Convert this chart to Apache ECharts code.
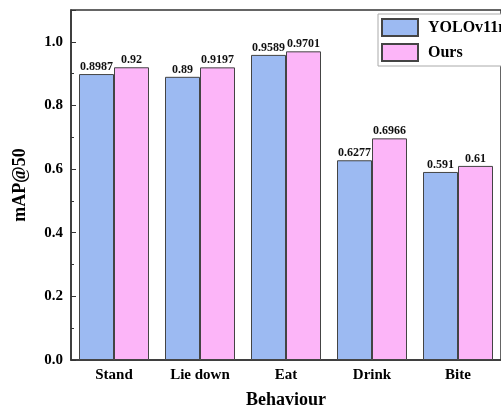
<!DOCTYPE html>
<html>
<head>
<meta charset="utf-8">
<script src="https://cdn.jsdelivr.net/npm/echarts@6/dist/echarts.min.js"></script>
<style>html,body{margin:0;padding:0;background:#fff;}#c{width:501px;height:414px;}</style>
</head>
<body>
<div id="c"></div>
<script>
const categories = ['Stand', 'Lie down', 'Eat', 'Drink', 'Bite'];
const yoloValues = [0.8987, 0.89, 0.9589, 0.6277, 0.591];
const oursValues = [0.92, 0.9197, 0.9701, 0.6966, 0.61];
const seriesNames = ['YOLOv11n', 'Ours'];
const yTicks = { min: 0, max: 1.1, interval: 0.2 };

const FONT = "'Liberation Serif', 'Times New Roman', serif";
const chart = echarts.init(document.getElementById('c'), null, { renderer: 'canvas' });

const labelCfg = {
  show: true, position: 'top', distance: 1,
  fontFamily: FONT, fontWeight: 'bold', fontSize: 12, color: '#111',
  formatter: p => String(p.value)
};

chart.setOption({
  backgroundColor: '#fff',
  animation: false,
  grid: { left: 71, top: 10, bottom: 51, right: -10, show: true, borderColor: '#333', borderWidth: 1.5, backgroundColor: 'transparent' },
  legend: {
    left: 378, top: 14, orient: 'vertical',
    itemWidth: 36, itemHeight: 17, itemGap: 6,
    padding: [4, 30, 4, 3],
    backgroundColor: '#fff', borderColor: '#aaa', borderWidth: 1, borderRadius: 0,
    icon: 'rect',
    textStyle: { fontFamily: FONT, fontWeight: 'bold', fontSize: 16, color: '#000', padding: [0, 0, 0, 5] },
    data: seriesNames
  },
  xAxis: {
    type: 'category', data: categories,
    name: 'Behaviour', nameLocation: 'middle', nameGap: 31,
    nameTextStyle: { fontFamily: FONT, fontWeight: 'bold', fontSize: 18, color: '#000' },
    axisLine: { lineStyle: { color: '#333', width: 1.5 } },
    axisTick: { inside: true, length: 3, lineStyle: { color: '#333' } },
    axisLabel: { fontFamily: FONT, fontWeight: 'bold', fontSize: 15, color: '#000', margin: 8 }
  },
  yAxis: {
    type: 'value', min: yTicks.min, max: yTicks.max, interval: yTicks.interval,
    name: 'mAP@50', nameLocation: 'middle', nameGap: 42, nameRotate: 90,
    nameTextStyle: { fontFamily: FONT, fontWeight: 'bold', fontSize: 18, color: '#000' },
    axisLine: { show: true, lineStyle: { color: '#333', width: 1.5 } },
    axisTick: { show: true, inside: true, length: 5, lineStyle: { color: '#333' } },
    minorTick: { show: true, splitNumber: 2, length: 3, lineStyle: { color: '#333' } },
    splitLine: { show: false },
    axisLabel: { fontFamily: FONT, fontWeight: 'bold', fontSize: 15, color: '#000', margin: 8,
      showMaxLabel: false, formatter: v => v.toFixed(1) }
  },
  series: [
    { name: seriesNames[0], type: 'bar', data: yoloValues, barWidth: 35, barGap: '0%',
      itemStyle: { color: '#9cbaf2', borderColor: '#444', borderWidth: 1 }, label: labelCfg },
    { name: seriesNames[1], type: 'bar', data: oursValues, barWidth: 35, barGap: '0%',
      itemStyle: { color: '#fcb5f8', borderColor: '#444', borderWidth: 1 }, label: labelCfg }
  ]
});
</script>
</body>
</html>
